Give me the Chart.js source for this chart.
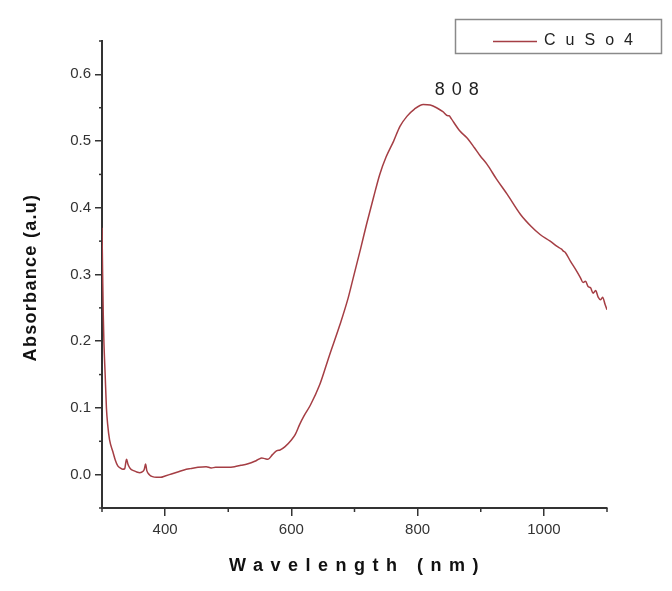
<!DOCTYPE html>
<html>
<head>
<meta charset="utf-8">
<script src="https://cdn.jsdelivr.net/npm/chart.js@4/dist/chart.umd.min.js"></script>
<style>
  html, body { margin: 0; padding: 0; background: #fff; }
</style>
</head>
<body>
<canvas id="chart" width="672" height="591"></canvas>
<script>
// spectrum
const wavelength = [
  300, 301, 302, 303, 305, 307, 309, 312, 317, 321, 325, 329, 333, 336, 338, 339, 341, 344, 346, 350,
  355, 360, 365, 367, 369, 371, 375, 380, 386, 393, 400, 410, 420, 430, 440, 452, 465, 473, 480, 490,
  500, 510, 520, 530, 542, 548, 553, 558, 563, 570, 577, 582, 590, 600, 606, 613, 620, 630, 645, 660,
  677, 690, 698, 710, 719, 730, 740, 750, 762, 772, 783, 795, 809, 820, 830, 840, 848, 850, 853, 867,
  878, 890, 899, 910, 925, 942, 963, 980, 994, 1010, 1021, 1028, 1031, 1034, 1042, 1050, 1058, 1062, 1066, 1070,
  1074, 1078, 1082, 1086, 1090, 1093, 1097, 1100
];
const absorbance = [
  0.370, 0.300, 0.240, 0.200, 0.150, 0.100, 0.075, 0.052, 0.035, 0.022, 0.013, 0.010, 0.008, 0.009, 0.020, 0.023, 0.016, 0.010, 0.008, 0.006,
  0.004, 0.003, 0.005, 0.008, 0.016, 0.006, 0.000, -0.003, -0.004, -0.004, -0.002, 0.001, 0.004, 0.007, 0.009, 0.011, 0.012, 0.010, 0.011, 0.011,
  0.011, 0.012, 0.014, 0.016, 0.020, 0.023, 0.025, 0.024, 0.023, 0.030, 0.036, 0.037, 0.042, 0.052, 0.060, 0.075, 0.088, 0.104, 0.135, 0.178,
  0.225, 0.265, 0.295, 0.340, 0.375, 0.415, 0.450, 0.476, 0.500, 0.522, 0.537, 0.548, 0.555, 0.554, 0.550, 0.544, 0.538, 0.538, 0.534, 0.515,
  0.505, 0.490, 0.478, 0.465, 0.443, 0.420, 0.390, 0.372, 0.360, 0.350, 0.342, 0.338, 0.335, 0.333, 0.320, 0.308, 0.295, 0.288, 0.290, 0.282,
  0.280, 0.272, 0.276, 0.266, 0.262, 0.266, 0.255, 0.247
];

const xTicks = [400, 600, 800, 1000];
const xMinor = [300, 500, 700, 900, 1100];
const yTicks = [0, 0.1, 0.2, 0.3, 0.4, 0.5, 0.6];
const yMinor = [-0.05, 0.05, 0.15, 0.25, 0.35, 0.45, 0.55, 0.65];
const peakLabel = "808";
const peakAt = 809;

const FONT = "'Liberation Sans', Arial, sans-serif";
const AXIS = "#333";
const LINE = "rgb(165, 62, 68)";

// extra drawing: minor ticks, boxed legend, peak note, spaced axis titles
const decor = {
  id: "decor",
  afterDraw(chart) {
    const ctx = chart.ctx;
    const area = chart.chartArea;
    const xs = chart.scales.x, ys = chart.scales.y;

    ctx.save();
    ctx.strokeStyle = AXIS;
    ctx.lineWidth = 1.5;
    xMinor.forEach(v => {
      const px = xs.getPixelForValue(v);
      ctx.beginPath();
      ctx.moveTo(px, area.bottom);
      ctx.lineTo(px, area.bottom + 4);
      ctx.stroke();
    });
    yMinor.forEach(v => {
      const py = ys.getPixelForValue(v);
      ctx.beginPath();
      ctx.moveTo(area.left - 3, py);
      ctx.lineTo(area.left, py);
      ctx.stroke();
    });

    // legend
    const ds = chart.data.datasets[0];
    ctx.strokeStyle = "#8a8a8a";
    ctx.lineWidth = 1.5;
    ctx.strokeRect(455.5, 19.5, 206, 34);
    ctx.strokeStyle = ds.borderColor;
    ctx.lineWidth = 1.5;
    ctx.beginPath();
    ctx.moveTo(493, 41.5);
    ctx.lineTo(537, 41.5);
    ctx.stroke();
    ctx.fillStyle = "#222";
    ctx.font = "16px " + FONT;
    ctx.letterSpacing = "10px";
    ctx.textAlign = "left";
    ctx.textBaseline = "middle";
    ctx.fillText(ds.label, 544, 41);

    // peak note
    ctx.font = "18px " + FONT;
    ctx.letterSpacing = "7px";
    ctx.textAlign = "center";
    ctx.fillText(peakLabel, xs.getPixelForValue(peakAt) + 37, 90);

    // axis titles
    ctx.fillStyle = "#111";
    ctx.font = "bold 18px " + FONT;
    ctx.letterSpacing = "7.5px";
    ctx.fillText("Wavelength (nm)", (area.left + area.right) / 2 + 3, 566);

    ctx.letterSpacing = "1.3px";
    ctx.translate(31, (area.top + area.bottom) / 2 + 3);
    ctx.rotate(-Math.PI / 2);
    ctx.fillText("Absorbance (a.u)", 0, 0);
    ctx.restore();
  }
};

new Chart(document.getElementById("chart"), {
  type: "line",
  data: {
    datasets: [{
      label: "CuSo4",
      data: wavelength.map((w, i) => ({ x: w, y: absorbance[i] })),
      borderColor: LINE,
      borderWidth: 1.5,
      pointRadius: 0,
      cubicInterpolationMode: "monotone",
      fill: false
    }]
  },
  options: {
    responsive: false,
    animation: false,
    layout: { padding: { left: 0, right: 65, top: 41, bottom: 0 } },
    plugins: { legend: { display: false }, tooltip: { enabled: false } },
    scales: {
      x: {
        type: "linear",
        min: 300,
        max: 1100,
        afterBuildTicks: s => { s.ticks = xTicks.map(v => ({ value: v })); },
        afterFit: s => { s.height = 83; },
        grid: { drawOnChartArea: false, tickLength: 8, color: AXIS, lineWidth: 1.5 },
        border: { display: true, color: AXIS, width: 2 },
        ticks: {
          color: "#333",
          font: { family: FONT, size: 15 },
          padding: 5,
          maxRotation: 0,
          callback: v => String(v)
        }
      },
      y: {
        min: -0.05,
        max: 0.65,
        afterBuildTicks: s => { s.ticks = yTicks.map(v => ({ value: v })); },
        afterFit: s => { s.width = 102; },
        grid: { drawOnChartArea: false, tickLength: 7, color: AXIS, lineWidth: 1.5 },
        border: { display: true, color: AXIS, width: 2 },
        ticks: {
          color: "#333",
          font: { family: FONT, size: 15 },
          padding: 4,
          callback: v => v.toFixed(1)
        }
      }
    }
  },
  plugins: [decor]
});
</script>
</body>
</html>
